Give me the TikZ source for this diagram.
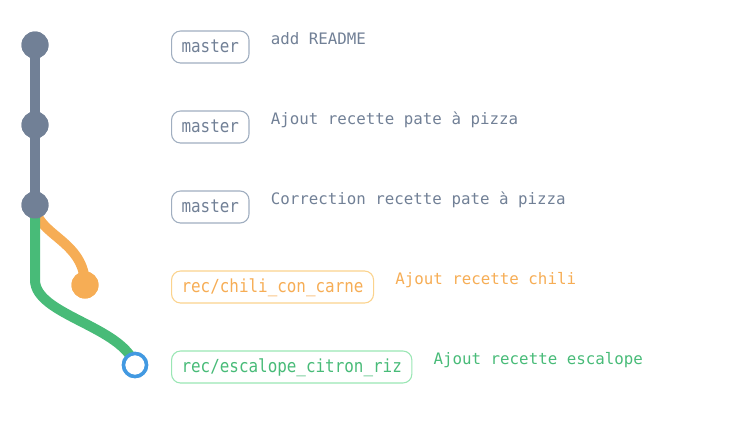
\documentclass[tikz,border=0pt]{standalone}
\usepackage{fontspec}
\setmonofont{DejaVu Sans Mono}
\newfontfamily\boxfont[FakeStretch=0.884]{DejaVu Sans Mono}
\definecolor{cgray}{HTML}{718096}
\definecolor{cgrayl}{HTML}{A0AEC0}
\definecolor{corange}{HTML}{F6AD55}
\definecolor{corangel}{HTML}{FBD38D}
\definecolor{cgreen}{HTML}{48BB78}
\definecolor{cgreenl}{HTML}{9AE6B4}
\definecolor{cblue}{HTML}{4299E1}
\tikzset{
  commit/.style={circle, inner sep=0pt, minimum size=27pt, fill=#1},
  headcommit/.style={circle, inner sep=0pt, minimum size=23pt, draw=cblue, line width=3.5pt, fill=white},
  branchline/.style={line width=10pt, draw=#1},
  reflabel/.style={draw=#1, rounded corners=9pt, line width=1.1pt, anchor=west,
    minimum height=32pt, inner xsep=10pt, inner ysep=0pt,
    text height=10pt, text depth=0pt, font=\boxfont\fontsize{18}{18}\selectfont},
  msg/.style={anchor=base west, inner sep=0pt, font=\ttfamily\fontsize{15.8}{16}\selectfont}
}
\begin{document}
\begin{tikzpicture}[x=1pt,y=-1pt]
\useasboundingbox (0,0) rectangle (740,426);
% commits
\node[commit=cgray] (c1) at (35,45) {};
\node[commit=cgray] (c2) at (35,125) {};
\node[commit=cgray] (c3) at (35,205) {};
\node[commit=corange] (c4) at (85,285) {};
\node[headcommit] (c5) at (135,365) {};
\coordinate (g1) at (35,280);
% branches
\draw[branchline=corange] (c3.center) .. controls (35,235) and (85,240) .. (c4.center);
\draw[branchline=cgreen] (c3.center) -- (g1) .. controls (35,315) and (122,326) .. (c5.center);
\draw[branchline=cgray] (c1.center) -- (c3.center);
% circles on top of the lines
\node[commit=cgray] at (c1) {};
\node[commit=cgray] at (c2) {};
\node[commit=cgray] at (c3) {};
\node[commit=corange] at (c4) {};
\node[headcommit] at (c5) {};
% labels
\node[reflabel=cgrayl, text=cgray] (b1) at (171,47) {master};
\node[reflabel=cgrayl, text=cgray] (b2) at (171,127) {master};
\node[reflabel=cgrayl, text=cgray] (b3) at (171,207) {master};
\node[reflabel=corangel, text=corange] (b4) at (171,287) {rec/chili\_con\_carne};
\node[reflabel=cgreenl, text=cgreen] (b5) at (171,367) {rec/escalope\_citron\_riz};
% messages
\node[msg, text=cgray] (m1) at ([xshift=21pt,yshift=2.5pt]b1.east) {add README};
\node[msg, text=cgray] (m2) at ([xshift=21pt,yshift=2.5pt]b2.east) {Ajout recette pate à pizza};
\node[msg, text=cgray] (m3) at ([xshift=21pt,yshift=2.5pt]b3.east) {Correction recette pate à pizza};
\node[msg, text=corange] (m4) at ([xshift=21pt,yshift=2.5pt]b4.east) {Ajout recette chili};
\node[msg, text=cgreen] (m5) at ([xshift=21pt,yshift=2.5pt]b5.east) {Ajout recette escalope};
\end{tikzpicture}
\end{document}
